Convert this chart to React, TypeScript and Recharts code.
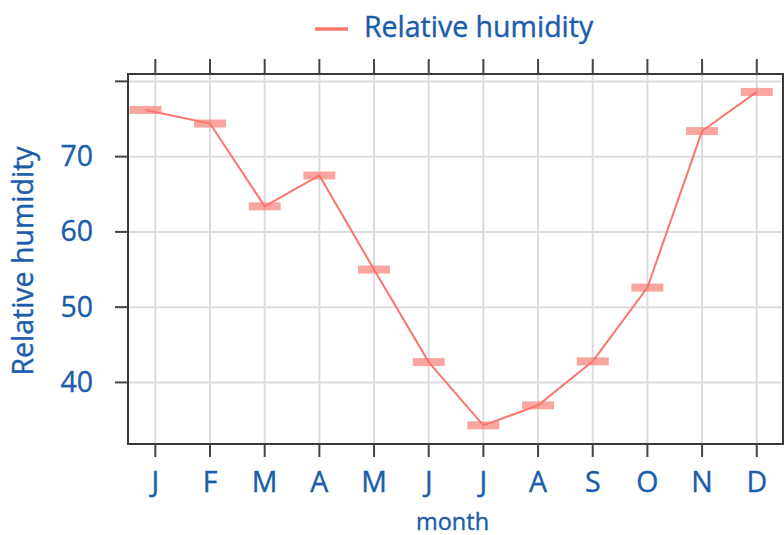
import React from 'react';
import {
  LineChart,
  Line,
  XAxis,
  YAxis,
  CartesianGrid,
  Legend,
  ReferenceArea,
} from 'recharts';

const monthLabels = ['J', 'F', 'M', 'A', 'M', 'J', 'J', 'A', 'S', 'O', 'N', 'D'];
const monthPos = [0.82, 2, 3, 4, 5, 6, 7, 8, 9, 10, 11, 12];
const humidity = [76.2, 74.4, 63.4, 67.5, 55.0, 42.7, 34.3, 36.95, 42.8, 52.6, 73.4, 78.6];
const yTicks = [40, 50, 60, 70, 80];
const xTicks = [1, 2, 3, 4, 5, 6, 7, 8, 9, 10, 11, 12];

const data = monthPos.map((m, i) => ({ m, humidity: humidity[i] }));

const BLUE = '#1a5dab';
const SALMON = '#F8766D';
const FONT = '"Open Sans", sans-serif';
const FS = 28.5;
const TXT = { fontFamily: FONT, fill: BLUE, stroke: BLUE, strokeWidth: 0.4 };
const X_DOMAIN: [number, number] = [0.5, 12.48];
const Y_DOMAIN: [number, number] = [31.82, 80.98];

const BarDot = (props: any) => {
  const { cx, cy, index } = props;
  if (cx == null || cy == null) return <g key={index} />;
  return (
    <rect
      key={index}
      x={cx - 16}
      y={cy - 4}
      width={32}
      height={8}
      fill={SALMON}
      fillOpacity={0.65}
    />
  );
};

const YTick = (props: any) => {
  const { x, y, payload } = props;
  if (payload.value === 80) return <g />;
  return (
    <text x={x} y={y} dy={9.5} textAnchor="end" fontSize={FS} {...TXT}>
      {payload.value}
    </text>
  );
};

const XTick = (props: any) => {
  const { x, y, payload } = props;
  const idx = Math.round(payload.value) - 1;
  return (
    <text x={x} y={y} dy={33} textAnchor="middle" fontSize={FS} {...TXT}>
      {monthLabels[idx]}
    </text>
  );
};

const EmptyTick = () => <g />;

const LegendContent = () => (
  <div style={{ position: 'relative', width: 784, height: 59 }}>
    <svg width={784} height={59} style={{ position: 'absolute', left: 0, top: 0 }}>
      <line x1={315} x2={348} y1={29} y2={29} stroke={SALMON} strokeWidth={3.5} />
      <text x={364} y={36.5} fontSize={FS} {...TXT}>
        Relative humidity
      </text>
    </svg>
  </div>
);

export default function App() {
  return (
    <div style={{ position: 'absolute', left: 0, top: 0, background: '#fff' }}>
      <LineChart
        width={784}
        height={535}
        data={data}
        margin={{ top: 0, right: 1, bottom: 0, left: 0 }}
      >
        <Legend verticalAlign="top" align="left" height={59} content={LegendContent} />
        <CartesianGrid stroke="#dcdcdc" strokeWidth={2} vertical horizontal />
        <XAxis
          dataKey="m"
          type="number"
          domain={X_DOMAIN}
          ticks={xTicks}
          allowDataOverflow
          height={91}
          tickSize={13}
          tickLine={{ stroke: '#444', strokeWidth: 2 }}
          axisLine={false}
          tick={XTick}
          interval={0}
          label={(p: any) => {
            const vb = p.viewBox || {};
            return (
              <text
                x={(vb.x ?? 128) + (vb.width ?? 655) / 2 - 3}
                y={530}
                textAnchor="middle"
                fontSize={23.5}
                {...TXT}
              >
                month
              </text>
            );
          }}
        />
        <XAxis
          xAxisId="top"
          orientation="top"
          dataKey="m"
          type="number"
          domain={X_DOMAIN}
          ticks={xTicks}
          allowDataOverflow
          height={15}
          tickSize={15}
          tickLine={{ stroke: '#444', strokeWidth: 2 }}
          axisLine={false}
          tick={EmptyTick}
          interval={0}
        />
        <YAxis
          type="number"
          domain={Y_DOMAIN}
          ticks={yTicks}
          allowDataOverflow
          width={128}
          tickSize={13}
          tickMargin={22}
          tickLine={{ stroke: '#444', strokeWidth: 2 }}
          axisLine={false}
          tick={YTick}
          interval={0}
          label={(p: any) => {
            const vb = p.viewBox || {};
            const cy = (vb.y ?? 74) + (vb.height ?? 370) / 2 + 2;
            return (
              <text
                x={23}
                y={cy}
                transform={`rotate(-90, 23, ${cy})`}
                dy={10}
                textAnchor="middle"
                fontSize={FS}
                {...TXT}
              >
                Relative humidity
              </text>
            );
          }}
        />
        <ReferenceArea
          x1={X_DOMAIN[0]}
          x2={X_DOMAIN[1]}
          y1={Y_DOMAIN[0]}
          y2={Y_DOMAIN[1]}
          fill="none"
          stroke="#3a3a3a"
          strokeWidth={2}
          ifOverflow="visible"
        />
        <Line
          type="linear"
          dataKey="humidity"
          stroke={SALMON}
          strokeWidth={2}
          dot={BarDot}
          activeDot={false}
          isAnimationActive={false}
        />
      </LineChart>
    </div>
  );
}
